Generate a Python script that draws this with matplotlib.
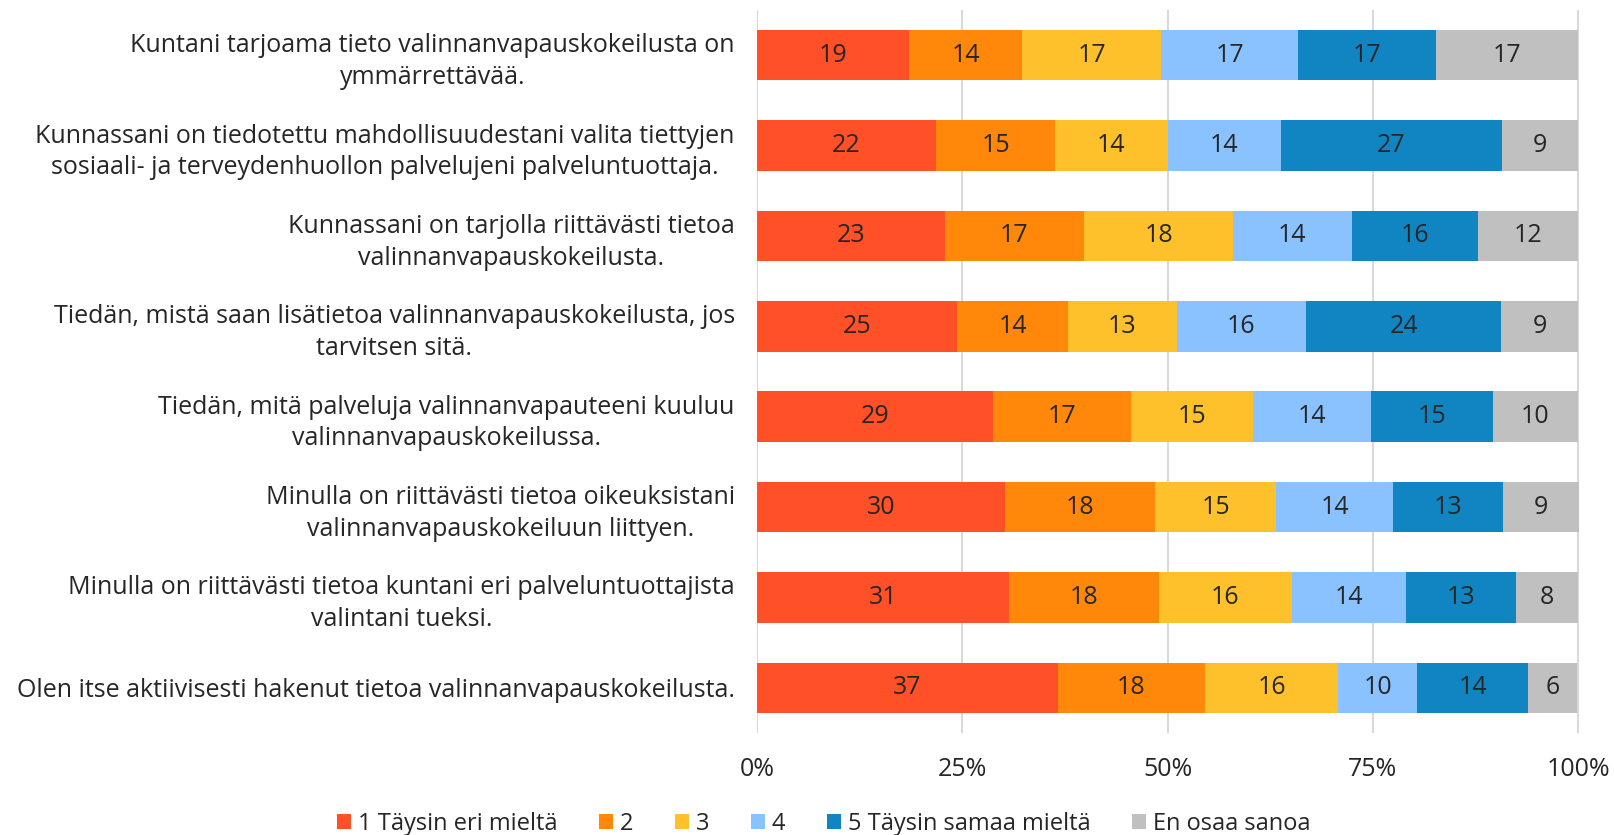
import numpy as np
import matplotlib
matplotlib.use("Agg")
import matplotlib.pyplot as plt

# Väittämät (ylhäältä alas)
kysymykset = [
    "Kuntani tarjoama tieto valinnanvapauskokeilusta on\nymmärrettävää.",
    "Kunnassani on tiedotettu mahdollisuudestani valita tiettyjen\nsosiaali- ja terveydenhuollon palvelujeni palveluntuottaja.",
    "Kunnassani on tarjolla riittävästi tietoa\nvalinnanvapauskokeilusta.",
    "Tiedän, mistä saan lisätietoa valinnanvapauskokeilusta, jos\ntarvitsen sitä.",
    "Tiedän, mitä palveluja valinnanvapauteeni kuuluu\nvalinnanvapauskokeilussa.",
    "Minulla on riittävästi tietoa oikeuksistani\nvalinnanvapauskokeiluun liittyen.",
    "Minulla on riittävästi tietoa kuntani eri palveluntuottajista\nvalintani tueksi.",
    "Olen itse aktiivisesti hakenut tietoa valinnanvapauskokeilusta.",
]

vastaukset = ["1 Täysin eri mieltä", "2", "3", "4", "5 Täysin samaa mieltä", "En osaa sanoa"]

# osuudet (%) kuvasta arvioituna
osuus_1 = [18.5, 21.8, 22.9, 24.4, 28.7, 30.2, 30.7, 36.6]
osuus_2 = [13.8, 14.5, 16.9, 13.5, 16.9, 18.3, 18.2, 18.0]
osuus_3 = [16.9, 13.7, 18.2, 13.2, 14.8, 14.7, 16.2, 16.2]
osuus_4 = [16.7, 13.8, 14.4, 15.8, 14.4, 14.3, 13.9, 9.6]
osuus_5 = [16.8, 26.9, 15.4, 23.7, 14.8, 13.3, 13.4, 13.5]
osuus_eos = [17.3, 9.3, 12.2, 9.4, 10.4, 9.3, 7.6, 6.0]

# palkkien päällä näkyvät luvut
luku_1 = [19, 22, 23, 25, 29, 30, 31, 37]
luku_2 = [14, 15, 17, 14, 17, 18, 18, 18]
luku_3 = [17, 14, 18, 13, 15, 15, 16, 16]
luku_4 = [17, 14, 14, 16, 14, 14, 14, 10]
luku_5 = [17, 27, 16, 24, 15, 13, 13, 14]
luku_eos = [17, 9, 12, 9, 10, 9, 8, 6]

varit = ["#FF5028", "#FF880A", "#FFC12B", "#8AC2FF", "#1185C2", "#C0C0C0"]

osuudet = [osuus_1, osuus_2, osuus_3, osuus_4, osuus_5, osuus_eos]
luvut = [luku_1, luku_2, luku_3, luku_4, luku_5, luku_eos]

plt.rcParams["font.family"] = ["Open Sans", "DejaVu Sans"]
teksti = "#262626"
koko = 18

fig = plt.figure(figsize=(16.15, 8.35), dpi=100)
ax = fig.add_axes([757 / 1615, 1 - 733 / 835, (1579 - 757) / 1615, (733 - 10) / 835])

y = np.arange(len(kysymykset))
vasen = np.zeros(len(kysymykset))
for osuus, luku, vari, nimi in zip(osuudet, luvut, varit, vastaukset):
    osuus = np.array(osuus)
    ax.barh(y, osuus, left=vasen, height=0.56, color=vari, label=nimi, zorder=3)
    for yi, (l, w, n) in enumerate(zip(vasen, osuus, luku)):
        ax.text(l + w / 2, yi, str(n), ha="center", va="center",
                fontsize=koko, color=teksti, zorder=4)
    vasen += osuus

ax.set_xlim(0, vasen.max())
ax.set_ylim(len(kysymykset) - 0.5, -0.5)
ax.set_yticks(y)
ax.set_yticklabels(kysymykset, fontsize=koko, color=teksti, ha="right",
                   multialignment="center", linespacing=1.35)
ax.set_xticks([0, 25, 50, 75, 100])
ax.set_xticklabels(["0%", "25%", "50%", "75%", "100%"], fontsize=koko, color=teksti)
ax.tick_params(length=0)
ax.tick_params(axis="x", pad=17)
ax.tick_params(axis="y", pad=16)
ax.grid(axis="x", color="#D9D9D9", linewidth=1.5, zorder=0)
for s in ax.spines.values():
    s.set_visible(False)

fig.legend(loc="center", bbox_to_anchor=(0.51, 1 - 824 / 835), ncol=6,
           frameon=False, fontsize=17, handlelength=0.6, handleheight=0.6,
           handletextpad=0.3, columnspacing=1.75, labelcolor=teksti)

fig.savefig("out.png", dpi=100)
